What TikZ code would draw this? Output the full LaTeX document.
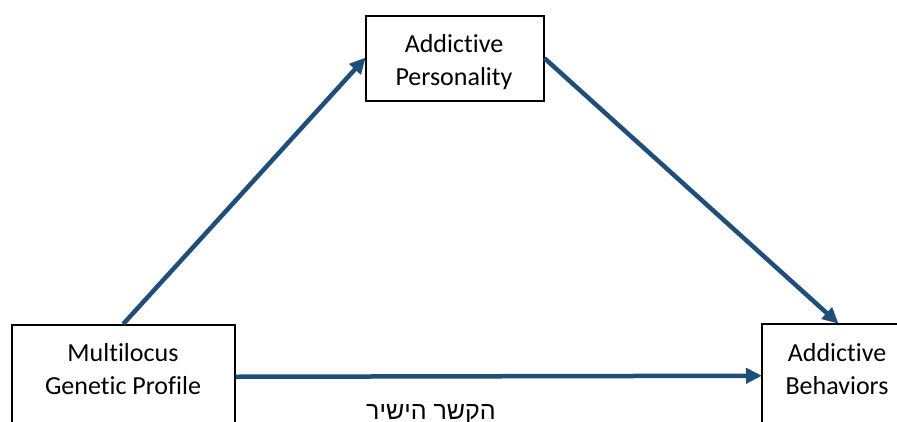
\documentclass[tikz,border=0pt]{standalone}
\usepackage{fontspec}
\setmainfont{Carlito}[Ligatures=NoCommon]
\newfontfamily\hebfont[Script=Hebrew]{Liberation Sans}
\TeXXeTstate=1
\usetikzlibrary{arrows.meta}
\definecolor{arrowblue}{RGB}{31,78,121}
\begin{document}
\begin{tikzpicture}[x=1pt,y=-1pt,
  box/.style={draw=black, line width=1.5pt, inner sep=0pt},
  lbl/.style={align=center, inner sep=0pt, font=\fontsize{26}{33}\selectfont},
  link/.style={draw=arrowblue, line width=4.5pt,
    -{Triangle[length=16pt,width=15pt]}, shorten >=-1pt}]
  \useasboundingbox (0,0) rectangle (897,421);
  \clip (0,0) rectangle (897,421);

  % boxes
  \node[box, minimum width=178pt, minimum height=85pt, anchor=north west] (pers) at (365,15) {};
  \node[box, minimum width=223pt, minimum height=104pt, anchor=north west] (gen) at (11,324) {};
  \node[box, minimum width=152pt, minimum height=104pt, anchor=north west] (beh) at (761,323) {};

  % box texts (base = baseline of the last line)
  \node[lbl, anchor=base] (perstxt) at (454,85) {Addictive\\Personality};
  \node[lbl, anchor=base] (gentxt) at (123,394) {Multilocus\\Genetic Profile};
  \node[lbl, anchor=base] (behtxt) at (837,394) {Addictive\\Behaviors};

  % arrows
  \draw[link] (gen.north) -- (pers.west);
  \draw[link] (pers.east) -- (beh.north);
  \draw[link] (gen.east) -- (beh.west);

  % direct path label
  \node[anchor=base, inner sep=0pt, font=\fontsize{25}{30}\selectfont] (direct) at (431,419)
    {\hebfont\beginR הקשר הישיר\endR};
\end{tikzpicture}
\end{document}
